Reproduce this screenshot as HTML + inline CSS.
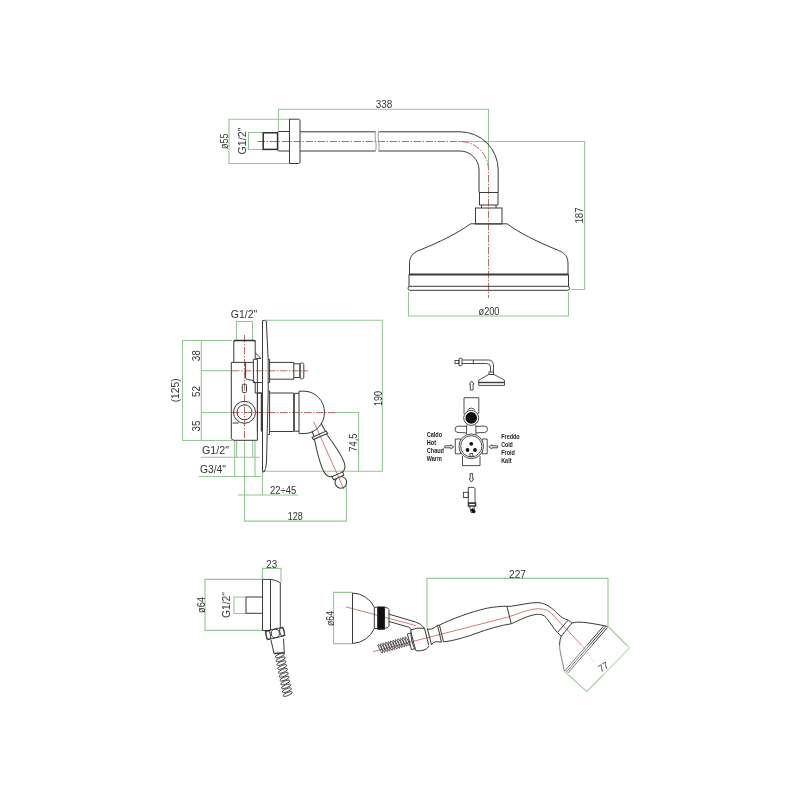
<!DOCTYPE html>
<html><head><meta charset="utf-8">
<style>
html,body{margin:0;padding:0;background:#fff;width:800px;height:800px;overflow:hidden}
svg{display:block;will-change:transform}
.o{stroke:#3a3a3a;stroke-width:1;fill:none}
.ot{stroke:#2e2e2e;stroke-width:1.5;fill:none}
.l{stroke:#9a9a9a;stroke-width:1;fill:none}
.g{stroke:#94c794;stroke-width:1.1;fill:none}
.r{stroke:#b4665e;stroke-width:0.95;fill:none;stroke-dasharray:7.5 1.5 1.5 1.5}
.rs{stroke:#c87068;stroke-width:0.9;fill:none}
text{font-family:"Liberation Sans",sans-serif;fill:#333;font-size:11.5px}
.s{font-size:6.9px;fill:#1e1e1e;font-weight:bold}
</style></head><body>
<svg width="800" height="800" viewBox="0 0 800 800">
<rect width="800" height="800" fill="#fff"/>

<!-- ============ TOP: shower arm + head ============ -->
<g id="top">
 <!-- dims -->
 <g class="g">
  <path d="M278.5,131 V109.2 H488.5 V168"/>
  <path d="M460,141.5 H584.6 V289.5 H571"/>
  <path d="M408.5,292 V316 H568.5 V292"/>
  <path d="M290,119.2 H229 V163.5 H290"/>
  <path d="M263,132.5 H248.5 V149.5 H263"/>
 </g>
 <text x="384" y="108" text-anchor="middle" textLength="16.5" lengthAdjust="spacingAndGlyphs">338</text>
 <text x="489" y="315" text-anchor="middle" textLength="21" lengthAdjust="spacingAndGlyphs">ø200</text>
 <text transform="translate(583.3,215.5) rotate(-90)" text-anchor="middle" textLength="16" lengthAdjust="spacingAndGlyphs">187</text>
 <text transform="translate(228.3,141.3) rotate(-90)" text-anchor="middle" textLength="15.5" lengthAdjust="spacingAndGlyphs">ø55</text>
 <text transform="translate(246,141) rotate(-90)" text-anchor="middle" textLength="27" lengthAdjust="spacingAndGlyphs">G1/2"</text>

 <!-- centre lines -->
 <path class="r" d="M257.5,141.5 H460 A28.5,28.5 0 0 1 488.5,170 V298"/>

 <!-- shapes -->
 <g class="o">
  <rect x="263.2" y="132.8" width="14.4" height="16.6" class="ot"/>
  <path d="M277.5,132 L278.5,131.5 H289.5 M277.5,150 L278.5,151 H289.5"/>
  <path d="M289.5,119.2 H298.5 Q300,119.2 300,120.7 V162 Q300,163.5 298.5,163.5 H289.5 Z"/>
  <path d="M300,131.8 H375.5 M378.5,131.8 H460 A38.2,38.2 0 0 1 498.2,170 V192.5"/>
  <path d="M300,151 H375.5 M378.5,151 H460 A19,19 0 0 1 479,170 V192.5"/>
  <path d="M479,192.5 H498.2 M479.5,192.5 V205 H498 V192.5"/>
  <path d="M481.5,205 V208 M496,205 V208"/>
  <rect x="475.5" y="208" width="26.5" height="16"/>
  <path d="M470.5,223.8 H507 C519.5,233 537.5,242 557.5,250 C565.5,253 568,257 568,264 V274.5"/>
  <path d="M470.5,223.8 C458,233 440,242 420,250 C412,253 409.5,257 409.5,264 V274.5"/>
  <path d="M409,274.5 H568.5" style="stroke-width:2"/>
  <path d="M409,274.5 V286.5 M568.5,274.5 V286.5"/>
  <path d="M410,286.3 H567.5 A2,2 0 0 1 567.5,290.3 H410 A2,2 0 0 1 410,286.3 Z"/>
 </g>
 <path class="l" d="M375.5,131.8 C374,137 377.5,145 375.5,151 M378.5,131.8 C377,137 380.5,145 378.5,151"/>
</g>

<!-- ============ MIXER ============ -->
<g id="mixer">
 <g class="g">
  <!-- G1/2 top -->
  <path d="M236.5,340 V321.5 H252.5 V340"/>
  <!-- left stacked dims -->
  <path d="M232,340.5 H182.5 V440.5 H232"/>
  <path d="M201.3,340.5 V440.5"/>
  <path d="M231.5,370.7 H201.3"/>
  <path d="M232,412.5 H201.3"/>
  <path d="M336,412.5 H358.6 V471.3"/>
  <!-- 190 -->
  <path d="M266,320.3 H382.3 V471.3 H262.5"/>
  <!-- bottom G dims -->
  <path d="M201,457.3 H259.5 M199,476.5 H261"/>
  <path d="M234.7,440.5 V476.5 M255,440.5 V476.5 M236.6,440.5 V457.3 M252.7,440.5 V457.3"/>
  <!-- 22÷45 -->
  <path d="M262.4,471.3 V495 M238,495 H298.3"/>
  <!-- 128 -->
  <path d="M244.6,444 V521.1 H346.4 V485.6"/>
 </g>
 <text x="244" y="317.5" text-anchor="middle" textLength="26.5" lengthAdjust="spacingAndGlyphs">G1/2"</text>
 <text transform="translate(199.8,355.8) rotate(-90)" text-anchor="middle" textLength="11" lengthAdjust="spacingAndGlyphs">38</text>
 <text transform="translate(178.6,390.3) rotate(-90)" text-anchor="middle" textLength="24" lengthAdjust="spacingAndGlyphs">(125)</text>
 <text transform="translate(199.8,391.5) rotate(-90)" text-anchor="middle" textLength="11" lengthAdjust="spacingAndGlyphs">52</text>
 <text transform="translate(199.8,425.9) rotate(-90)" text-anchor="middle" textLength="11" lengthAdjust="spacingAndGlyphs">35</text>
 <text x="202" y="453.6" textLength="27" lengthAdjust="spacingAndGlyphs">G1/2"</text>
 <text x="200" y="472.6" textLength="26" lengthAdjust="spacingAndGlyphs">G3/4"</text>
 <text x="270" y="494" textLength="26.2" lengthAdjust="spacingAndGlyphs">22÷45</text>
 <text x="295.2" y="520" text-anchor="middle" textLength="15" lengthAdjust="spacingAndGlyphs">128</text>
 <text transform="translate(356.7,442.6) rotate(-90)" text-anchor="middle" textLength="18.5" lengthAdjust="spacingAndGlyphs">74,5</text>
 <text transform="translate(381.8,398.4) rotate(-90)" text-anchor="middle" textLength="15" lengthAdjust="spacingAndGlyphs">190</text>

 <!-- centre lines -->
 <path class="r" d="M244.5,335 V444 M232,370.8 H308 M232,412.5 H336"/>
 <path class="rs" d="M313.6,421.4 L344,489.4"/>

 <g class="o">
  <!-- inlet top -->
  <path d="M233.8,362 V341.5 M255.2,341.5 V352.7"/><path class="ot" d="M233.8,341.8 Q233.8,340.6 235,340.6 H254 Q255.2,340.6 255.2,341.8"/>
  <path d="M255.2,352.7 V358.4 H261 Z"/>
  <!-- main body -->
  <path d="M231.3,362.4 H245.6 M231.3,362.4 V437.5 Q231.3,440.3 234,440.3 H257.4 V382.5"/>
  <path d="M245.6,362.4 H253.4 M245.6,362.4 V377.7 Q246,380 251.3,380 Q254,380.5 255.2,382.5 V393"/>
  <path d="M253.4,359.3 H257.4 V382.5 M253.4,359.3 V382.5 H261.8"/>
  <path d="M255.2,393 H261.8"/>
  <rect x="242.3" y="384.3" width="4.2" height="8.2" rx="1"/>
  <!-- outlet circle -->
  <circle cx="244.5" cy="412.3" r="11"/>
  <circle cx="244.5" cy="412.3" r="7.5"/>
  <path d="M232.5,423 H238.8"/>
  <path d="M257.4,393 V431.5 M257.4,393 H261.8"/>
  <path d="M261.6,393 V431.5" style="stroke-width:1.6"/>
  <!-- escutcheon -->
  <path d="M262.5,320.5 V471 Q262.5,472 264,472 Q266,470 266.5,462 L268.2,392 L268.2,360 L266.3,321 Q266,320.3 264.5,320.3 Q262.5,320.3 262.5,321.5"/>
  <!-- diverter -->
  <path d="M267.9,359.3 H269.6 V382.5 H267.9"/>
  <path d="M269.6,362.4 H293.8 V379.2 H269.6"/>
  <path d="M293.8,363.8 H300 V377.5 H293.8"/>
  <rect x="300" y="363" width="3.8" height="15.8" rx="1.5"/>
  <!-- handle -->
  <path d="M268,391 H269.6 V434.5 H268"/>
  <path d="M269.6,393 H293.5 M269.6,431.5 H293.5"/>
  <path d="M294,393 V431.5" style="stroke-width:1.7"/>
  <path d="M294.5,393.3 H299 M294.5,431.2 H299"/>
  <path d="M299,391.2 V433.6 M299,391.2 H304 A20.5,21.2 0 0 1 304,433.6 H299"/>
 </g>
 <!-- lever -->
 <g class="o" transform="translate(313.6,421.4) rotate(-24.1)">
  <path d="M-5.4,8.1 L-5.8,14 M6.1,4.5 L6.8,14"/>
  <path d="M-8,14 H7.5 L8,16.5 H-7.5 Z"/>
  <path d="M-6.5,16.5 C-9.5,30 -12,44 -11,51.5 Q-10,57 -5.5,58 M6.5,16.5 C9.5,30 12,44 11,51.5 Q10,57 5.5,58"/>
  <path d="M-6,58 H6 L5.5,61.5 H-5.5 Z"/>
  <path d="M-2.5,61.5 A5.8,5.8 0 1 0 2.5,61.5"/>
 </g>
</g>

<!-- ============ SCHEMATIC ============ -->
<g id="schem">
 <g class="o" style="stroke-width:0.9">
  <!-- mini shower -->
  <rect x="455" y="360.5" width="4" height="3" />
  <rect x="459" y="358.3" width="3" height="7.5" rx="1"/>
  <path d="M462,360 H488.5 Q493.5,360 493.5,366 V372 M462,363.5 H486.5 Q490.5,363.5 490.5,367 V372 M473.4,360 V363.5"/>
  <rect x="489" y="372" width="4.6" height="2.5"/>
  <path d="M488.7,374.5 H494 L504.5,380.2 V385.4 H478.7 V380.2 Z"/>
  <path d="M478.7,382.5 H504.5" style="stroke-width:1.4"/>
  <!-- arrow up -->
  <path d="M470.3,390 V384.2 H469.4 L471.7,381 L474,384.2 H473.1 V390 Z"/>
  <!-- valve -->
  <path d="M464,413.8 V397.7 H478.8 V413.8"/>
  <path d="M467.5,410.4 A4,3.5 0 0 1 475,410.4"/>
  <circle cx="471.2" cy="417.9" r="7.5"/>
  <path d="M466.6,426.4 L458,426.1 Q455,426.4 455,429.3 Q455,432.3 458,432.5 L466.6,432.9 M475.9,426.4 L484.5,426.1 Q487.5,426.4 487.5,429.3 Q487.5,432.3 484.5,432.5 L475.9,432.9"/>
  <path d="M466.6,424.8 V434.5 M475.9,424.8 V434.5"/>
  <path d="M455.3,439 H460.5 V453.8 H455.3 Z M482.2,439 H487.2 V453.8 H482.2 Z"/>
  <path d="M462.5,456 V465.6 H480 V456"/>
  <circle cx="471.25" cy="446.3" r="12.3" fill="#fff"/>
  <circle cx="471.25" cy="446.3" r="10.6"/>
  <rect x="470" y="453.6" width="2.8" height="2.8" fill="#fff"/>
  <!-- side arrows -->
  <path d="M444.8,445.8 H450.8 V444.8 L453.8,446.8 L450.8,448.8 V447.8 H444.8 Z"/>
  <path d="M497.7,445.8 H491.8 V444.8 L488.8,446.8 L491.8,448.8 V447.8 H497.7 Z"/>
  <!-- arrow down -->
  <path d="M470.1,473.5 V479 H469.2 L471.4,482.1 L473.6,479 H472.7 V473.5 Z"/>
  <!-- outlet -->
  <path d="M468.3,503.5 V487.4 H474 L475,488.5 V503.5 Z"/>
  <rect x="463.4" y="492.3" width="4.9" height="5.2"/>
  <path d="M468.5,503 H475.5 V506 H468.5 Z" style="stroke-width:1.6"/>
  <path d="M469.5,506 L471,512.5 H475 L473.8,506"/>
 </g>
 <circle cx="471.2" cy="417.9" r="5.8" fill="#111"/>
 <circle cx="471.25" cy="443.8" r="1.9" fill="#111"/>
 <circle cx="467.5" cy="450" r="1.9" fill="#111"/>
 <circle cx="475" cy="450" r="1.9" fill="#111"/>
 <path d="M471.5,509 L474.5,512.5" stroke="#111" stroke-width="3"/>
 <text class="s" x="426.8" y="437.2" textLength="15.2" lengthAdjust="spacingAndGlyphs">Caldo</text>
 <text class="s" x="426.8" y="444.9" textLength="9.3" lengthAdjust="spacingAndGlyphs">Hot</text>
 <text class="s" x="426.8" y="452.9" textLength="17.2" lengthAdjust="spacingAndGlyphs">Chaud</text>
 <text class="s" x="426.8" y="461.1" textLength="15" lengthAdjust="spacingAndGlyphs">Warm</text>
 <text class="s" x="501.2" y="439" textLength="18.5" lengthAdjust="spacingAndGlyphs">Freddo</text>
 <text class="s" x="501.2" y="446.8" textLength="11.6" lengthAdjust="spacingAndGlyphs">Cold</text>
 <text class="s" x="501.2" y="454.8" textLength="13.7" lengthAdjust="spacingAndGlyphs">Froid</text>
 <text class="s" x="501.2" y="462.6" textLength="10.3" lengthAdjust="spacingAndGlyphs">Kalt</text>
</g>

<!-- ============ WALL OUTLET ============ -->
<g id="outlet">
 <g class="g">
  <path d="M262.4,579 V568.4 H281 V582.5"/>
  <path d="M262.4,579.4 H205 V630.4 H262.4"/>
  <path d="M246,597 H234 V613.5 H246"/>
 </g>
 <text x="271.7" y="568" text-anchor="middle" textLength="11" lengthAdjust="spacingAndGlyphs">23</text>
 <text transform="translate(205,605) rotate(-90)" text-anchor="middle" textLength="16" lengthAdjust="spacingAndGlyphs">ø64</text>
 <text transform="translate(230,605) rotate(-90)" text-anchor="middle" textLength="26" lengthAdjust="spacingAndGlyphs">G1/2"</text>
 <g class="o">
  <path d="M246,597 H262.5 M246,597 V613.3 H262.5"/>
  <path d="M262.5,579.4 H270.5 Q276,580 280.3,582.7 V627.2 M262.5,579.4 V630.5 H270.5 M270.5,579.4 V630.5" />
  <path d="M265.3,631 L283.1,627.2 L285,635.6 L267.2,639.8 Z"/>
  <ellipse cx="268.3" cy="635" rx="2.2" ry="4.2" transform="rotate(-12 268.3 635)"/>
  <ellipse cx="275.3" cy="633.5" rx="4" ry="4.2"/>
  <ellipse cx="282" cy="631.8" rx="2.2" ry="4.2" transform="rotate(-12 282 631.8)"/>
  <path d="M271,640 L274,653.5 M283.5,638.5 L284.3,653"/><path d="M274,653.5 L284.3,652.8" style="stroke-width:1.4"/>
 </g>
 <g stroke="#3a3a3a" stroke-width="0.85" fill="none" id="hose1"><g transform="translate(279.50,653.50) rotate(78.69)"><ellipse cx="1.97" cy="0" rx="1.5" ry="4.9" transform="rotate(-10 1.97 0)"/><ellipse cx="5.91" cy="0" rx="1.5" ry="4.9" transform="rotate(-10 5.91 0)"/><ellipse cx="9.85" cy="0" rx="1.5" ry="4.9" transform="rotate(-10 9.85 0)"/><ellipse cx="13.79" cy="0" rx="1.5" ry="4.9" transform="rotate(-10 13.79 0)"/><ellipse cx="17.73" cy="0" rx="1.5" ry="4.9" transform="rotate(-10 17.73 0)"/><ellipse cx="21.67" cy="0" rx="1.5" ry="4.9" transform="rotate(-10 21.67 0)"/><ellipse cx="25.61" cy="0" rx="1.5" ry="4.9" transform="rotate(-10 25.61 0)"/><ellipse cx="29.55" cy="0" rx="1.5" ry="4.9" transform="rotate(-10 29.55 0)"/><ellipse cx="33.49" cy="0" rx="1.5" ry="4.9" transform="rotate(-10 33.49 0)"/><ellipse cx="37.43" cy="0" rx="1.5" ry="4.9" transform="rotate(-10 37.43 0)"/><ellipse cx="41.37" cy="0" rx="1.5" ry="4.9" transform="rotate(-10 41.37 0)"/></g></g>
</g>

<!-- ============ HAND SHOWER ============ -->
<g id="hand">
 <g class="g">
  <path d="M352.4,592.4 H333.6 V643.6 H352.4"/>
  <path d="M427,627.5 V578.4 H608 V626"/>
  <path d="M608,626.3 L629.5,648 L586.8,691.6 L564.8,671.7"/>
 </g>
 <text transform="translate(333.5,618.5) rotate(-90)" text-anchor="middle" textLength="15" lengthAdjust="spacingAndGlyphs">ø64</text>
 <text x="517.5" y="578" text-anchor="middle" textLength="17" lengthAdjust="spacingAndGlyphs">227</text>
 <path class="rs" d="M346,606.9 L416,625.6"/>
 <path class="rs" d="M373.1,651.6 L507.5,617.2 C520,613 530,609 537,608.8 C544,608.8 549,610 553,615 L585,648.8"/>
 <path d="M585,648.8 L595,663.5" stroke="#bbb" stroke-width="0.9" stroke-dasharray="2 1.5" fill="none"/>
 <path d="M377.2,606.5 H384.9 V629.7 H377.2 Z" fill="#111"/>
 <g class="o">
  <path d="M352.5,593 V643.5"/>
  <path d="M352.5,593 A25.25,25.25 0 0 1 374.35,607.3 V628.5 A25.25,25.25 0 0 1 352.5,643.5"/>
  <path d="M374.35,607.3 H377.2 M374.35,628.5 H377.2"/>
  <path d="M384.9,607.7 H387.2 L389,609.6 V626.2 L387.2,628 H384.9"/>
  <path d="M389,614.2 L415.5,622 Q421.5,623.8 424.5,628.25 M389,621.5 L408.9,627.2 Q410.5,628 410.9,629.8"/>
  <!-- swivel -->
  <path d="M410.9,629.8 Q417,627.3 424.5,628.25 M410.9,630 Q410.5,643 416,650.75 Q421,651 424,650 Q427,649.5 429,646"/>
  <path d="M424.5,628.25 L428.75,645.5 M427.25,628.25 L431.5,645"/>
  <path d="M407.4,634 L411.1,632.9 L415.25,648.6 L411.5,649.6 Z"/>
  <!-- handle -->
  <path d="M427.75,629.25 Q431,629.5 433,628.5 Q435,627 437.5,625.3 H439.5 M431.5,645 Q432.5,642.5 434.5,642 Q436,641.3 441.5,642.2"/>
  <path d="M437.5,625.3 L441.5,642.25 M439.5,625.3 L443.5,642"/>
  <path d="M439.4,625 C452,619 470,612 487.5,608.1 C495,606.8 501,606.3 506.9,606.25 L511.25,606.25 C520,605 530,602.5 538,602.6 C546,603 552,608 558,614 C561,617 564,619 568.1,620"/>
  <path d="M443.75,641.9 C452,640.8 462,638.5 475,633.75 C488,629 500,625.5 511.25,623.75 C520,620 528,615.5 536.25,614.4 C541,614 544,615 546,617.5 C550,622 553,628 557.5,632.5"/>
  <path d="M506.9,606.25 L511.25,623.75"/>
  <!-- head -->
  <path d="M557.5,632.5 L568.1,620 L571.9,623.1 L561.25,636.25 Z"/>
  <path d="M571.9,623.1 C577,621 588,622.5 603.75,625.6 L607.5,626.5"/>
  <path d="M561.25,636.25 C557.5,645 561,655 563.1,665 L564.4,671.25"/>
  <path d="M564.4,671.3 L603.9,625.7 M566,672.3 L605.7,626.6 M567.6,673.3 L607.5,627.5"/>
 </g>
 <g stroke="#3a3a3a" stroke-width="0.75" fill="none" id="hose2"><g transform="translate(379.20,649.00) rotate(-15.63)"><ellipse cx="1.27" cy="0" rx="1.0" ry="4.8" transform="rotate(-10 1.27 0)"/><ellipse cx="3.80" cy="0" rx="1.0" ry="4.8" transform="rotate(-10 3.80 0)"/><ellipse cx="6.34" cy="0" rx="1.0" ry="4.8" transform="rotate(-10 6.34 0)"/><ellipse cx="8.87" cy="0" rx="1.0" ry="4.8" transform="rotate(-10 8.87 0)"/><ellipse cx="11.41" cy="0" rx="1.0" ry="4.8" transform="rotate(-10 11.41 0)"/><ellipse cx="13.95" cy="0" rx="1.0" ry="4.8" transform="rotate(-10 13.95 0)"/><ellipse cx="16.48" cy="0" rx="1.0" ry="4.8" transform="rotate(-10 16.48 0)"/><ellipse cx="19.02" cy="0" rx="1.0" ry="4.8" transform="rotate(-10 19.02 0)"/><ellipse cx="21.55" cy="0" rx="1.0" ry="4.8" transform="rotate(-10 21.55 0)"/><ellipse cx="24.09" cy="0" rx="1.0" ry="4.8" transform="rotate(-10 24.09 0)"/><ellipse cx="26.62" cy="0" rx="1.0" ry="4.8" transform="rotate(-10 26.62 0)"/><ellipse cx="29.16" cy="0" rx="1.0" ry="4.8" transform="rotate(-10 29.16 0)"/></g></g>
</g>
<rect x="500" y="645" width="167" height="30" rx="6" fill="#fff" fill-opacity="0.35"/>
<text transform="translate(605.3,669.8) rotate(-32)" text-anchor="middle" textLength="10" lengthAdjust="spacingAndGlyphs" style="font-size:10px">77</text>
</svg>
</body></html>
